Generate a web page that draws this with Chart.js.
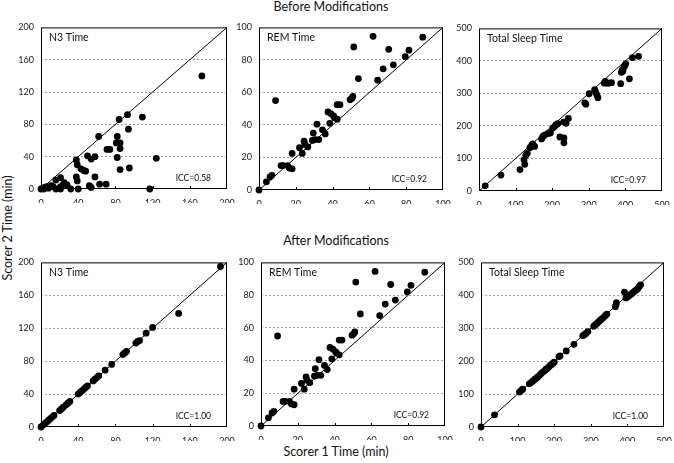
<!DOCTYPE html>
<html>
<head>
<meta charset="utf-8">
<script src="https://cdn.jsdelivr.net/npm/chart.js@4"></script>
<style>
  body { margin: 0; background: #fff; }
  #wrap { position: relative; width: 674px; height: 463px; overflow: hidden; font-family: Lato, sans-serif; color: #111; }
  .panel { position: absolute; }
  .lbl { position: absolute; white-space: nowrap; font-size: 12.5px; line-height: 12.5px; }
</style>
</head>
<body>
<div id="wrap">
  <div class="lbl" style="left:331px; top:1px; transform:translateX(-50%)">Before Modifications</div>
  <div class="lbl" style="left:336px; top:235px; transform:translateX(-50%)">After Modifications</div>
  <div class="lbl" style="left:336px; top:446px; transform:translateX(-50%)">Scorer 1 Time (min)</div>
  <div class="lbl" style="left:8px; top:228px; transform:translate(-50%,-50%) rotate(-90deg)">Scorer 2 Time (min)</div>
</div>
<script>
// axis ranges (min, max, step)
const n3Axis = [0, 200, 40];
const remAxis = [0, 100, 20];
const tstAxis = [0, 500, 100];

// N3 time, before modifications (scorer 1 / scorer 2)
const n3BeforeX = [0, 2, 4, 6, 3, 8, 11, 13, 16, 21, 21, 16, 21, 24, 25, 28, 32, 40, 38, 39, 38, 39, 43, 46, 48, 50, 54, 58, 58, 52, 54, 63, 70, 62, 82, 81, 85, 85, 71, 74, 82, 85, 95, 93, 84, 109, 94, 124, 117, 173];
const n3BeforeY = [0, 1, 2, 3, 0, 1, 4, 3, 0, 0, 3, 11, 14, 6, 8, 5, 0, 0, 15, 10, 36, 30, 25, 23, 22, 41, 37, 40, 15, 4, 2, 6, 6, 65, 65, 57, 57, 50, 49, 49, 39, 24, 26, 92, 86, 89, 74, 38, 0, 140];

// REM time (same in both rows)
const remX = [0, 4, 6, 7, 9, 12, 13, 15.5, 16.5, 18, 18, 22, 23.5, 24.5, 25, 26.5, 29, 29.5, 31.5, 30.5, 32.5, 34.5, 36, 37.5, 39, 38.5, 40.5, 41, 42.5, 42.5, 44, 49.5, 50.5, 51, 51.5, 54, 62, 64.5, 67.5, 70.5, 73, 79.5, 81.5, 89];
const remY = [0, 5, 8, 9, 55, 15, 15, 15, 13.5, 13, 22.5, 26, 22.5, 30, 28, 26.5, 30.5, 35, 40.5, 31, 31, 37, 34.5, 48, 47, 41, 45.5, 44.5, 43.5, 52.5, 52.5, 55.5, 56.5, 57.5, 88, 68.5, 94.5, 67.5, 74.5, 86.5, 77, 82, 86, 94];

// Total sleep time, before modifications
const tstBeforeX = [17, 60, 112, 125, 123, 128, 132, 139, 144, 147, 152, 171, 174, 178, 187, 195, 201, 206, 210, 215, 221, 232, 232, 231, 238, 244, 289, 292, 301, 316, 319, 322, 325, 342, 345, 350, 356, 362, 387, 389, 391, 393, 396, 398, 401, 411, 419, 436];
const tstBeforeY = [16, 49, 66, 82, 96, 110, 116, 133, 140, 145, 137, 160, 167, 171, 176, 178, 193, 198, 203, 207, 166, 163, 148, 212, 208, 223, 271, 267, 299, 312, 304, 295, 287, 332, 337, 331, 332, 333, 330, 365, 372, 368, 380, 385, 391, 345, 410, 414];

// N3 time, after modifications
const n3AfterX = [0, 2, 4, 6, 8, 10, 12, 14, 20, 22, 24, 27, 29, 31, 40, 42, 44, 46, 48, 50, 56, 58, 60, 62, 69, 76, 88, 90, 92, 102, 104, 106, 113, 120, 148, 193];
const n3AfterY = [0, 2, 4, 6, 8, 10, 12, 14, 20, 22, 24, 27, 29, 31, 40, 42, 44, 46, 48, 50, 56, 58, 60, 62, 69, 76, 88, 90, 92, 102, 104, 105, 114, 121, 138, 195];

// Total sleep time, after modifications
const tstAfterX = [0, 37, 105, 110, 114, 132, 137, 142, 147, 151, 155, 160, 164, 168, 173, 177, 181, 185, 189, 193, 197, 200, 213, 216, 233, 254, 278, 283, 287, 292, 308, 312, 316, 320, 324, 328, 332, 336, 340, 344, 367, 369, 370, 392, 396, 400, 404, 408, 412, 416, 420, 424, 428, 432, 436];
const tstAfterY = [0, 37, 106, 111, 115, 131, 135, 140, 145, 148, 152, 157, 162, 166, 170, 175, 178, 182, 187, 190, 194, 197, 214, 216, 231, 251, 277, 281, 284, 290, 306, 310, 314, 318, 322, 326, 330, 334, 339, 343, 365, 372, 378, 410, 392, 395, 398, 402, 405, 409, 413, 416, 420, 426, 432];

const tickFont = { family: 'Lato', size: 9 };

// frame, inside x tick marks, panel title and ICC text
const framePlugin = {
  id: 'frame',
  afterDatasetsDraw(chart, args, opts) {
    const { ctx, chartArea: a, scales: { x } } = chart;
    ctx.save();
    ctx.strokeStyle = '#000';
    ctx.lineWidth = 1;
    ctx.strokeRect(a.left + 0.5, a.top + 0.5, a.width - 1, a.height - 1);
    x.ticks.forEach((t, i) => {
      if (i === 0 || i === x.ticks.length - 1) return;
      const px = Math.round(x.getPixelForValue(t.value)) + 0.5;
      ctx.beginPath();
      ctx.moveTo(px, a.bottom);
      ctx.lineTo(px, a.bottom - 3);
      ctx.stroke();
    });
    ctx.fillStyle = '#111';
    ctx.font = '10.5px Lato';
    ctx.textAlign = 'left';
    ctx.textBaseline = 'alphabetic';
    ctx.fillText(opts.title, a.left + 8, a.top + 14);
    ctx.font = '8.5px Lato';
    ctx.textAlign = 'right';
    ctx.fillText(opts.icc, a.right - 16, a.bottom - 8);
    ctx.restore();
  }
};

function makePanel(box, axis, xs, ys, title, icc) {
  const [lo, hi, step] = axis;
  const div = document.createElement('div');
  div.className = 'panel';
  div.style.left = (box.l - 38) + 'px';
  div.style.top = (box.t - 8) + 'px';
  div.style.width = (box.r - box.l + 50) + 'px';
  div.style.height = (box.b - box.t + 22) + 'px';
  const canvas = document.createElement('canvas');
  div.appendChild(canvas);
  document.getElementById('wrap').appendChild(div);

  const points = xs.map((v, i) => ({ x: v, y: ys[i] }));

  new Chart(canvas.getContext('2d'), {
    type: 'scatter',
    data: {
      datasets: [
        { data: points, pointRadius: 3.4, pointHoverRadius: 3.4, backgroundColor: '#000', borderWidth: 0, clip: false },
        { data: [{ x: lo, y: lo }, { x: hi, y: hi }], showLine: true, borderColor: '#000', borderWidth: 1, pointRadius: 0 }
      ]
    },
    options: {
      responsive: true,
      maintainAspectRatio: false,
      animation: false,
      layout: { padding: { top: 8, right: 12, left: 0, bottom: 0 } },
      plugins: {
        legend: { display: false },
        tooltip: { enabled: false },
        frame: { title: title, icc: icc }
      },
      scales: {
        x: {
          type: 'linear', min: lo, max: hi,
          ticks: { stepSize: step, font: tickFont, color: '#1a1a1a', padding: 1, maxRotation: 0 },
          grid: { display: false },
          border: { display: false },
          afterFit: s => { s.height = 14; }
        },
        y: {
          type: 'linear', min: lo, max: hi,
          ticks: { stepSize: step, font: tickFont, color: '#1a1a1a', padding: 7 },
          grid: {
            drawTicks: false,
            lineWidth: 0.8,
            color: c => (c.tick.value === lo || c.tick.value === hi) ? 'rgba(0,0,0,0)' : '#8a8a8a'
          },
          border: { display: false, dash: [2, 2] },
          afterFit: s => { s.width = 38; }
        }
      }
    },
    plugins: [framePlugin]
  });
}

makePanel({ l: 41, t: 23, r: 227, b: 189 }, n3Axis, n3BeforeX, n3BeforeY, 'N3 Time', 'ICC=0.58');
makePanel({ l: 259, t: 23, r: 443, b: 190 }, remAxis, remX, remY, 'REM Time', 'ICC=0.92');
makePanel({ l: 479, t: 24, r: 662, b: 191 }, tstAxis, tstBeforeX, tstBeforeY, 'Total Sleep Time', 'ICC=0.97');
makePanel({ l: 41, t: 258, r: 227, b: 427 }, n3Axis, n3AfterX, n3AfterY, 'N3 Time', 'ICC=1.00');
makePanel({ l: 261, t: 258, r: 445, b: 426 }, remAxis, remX, remY, 'REM Time', 'ICC=0.92');
makePanel({ l: 481, t: 258, r: 664, b: 427 }, tstAxis, tstAfterX, tstAfterY, 'Total Sleep Time', 'ICC=1.00');
</script>
</body>
</html>
